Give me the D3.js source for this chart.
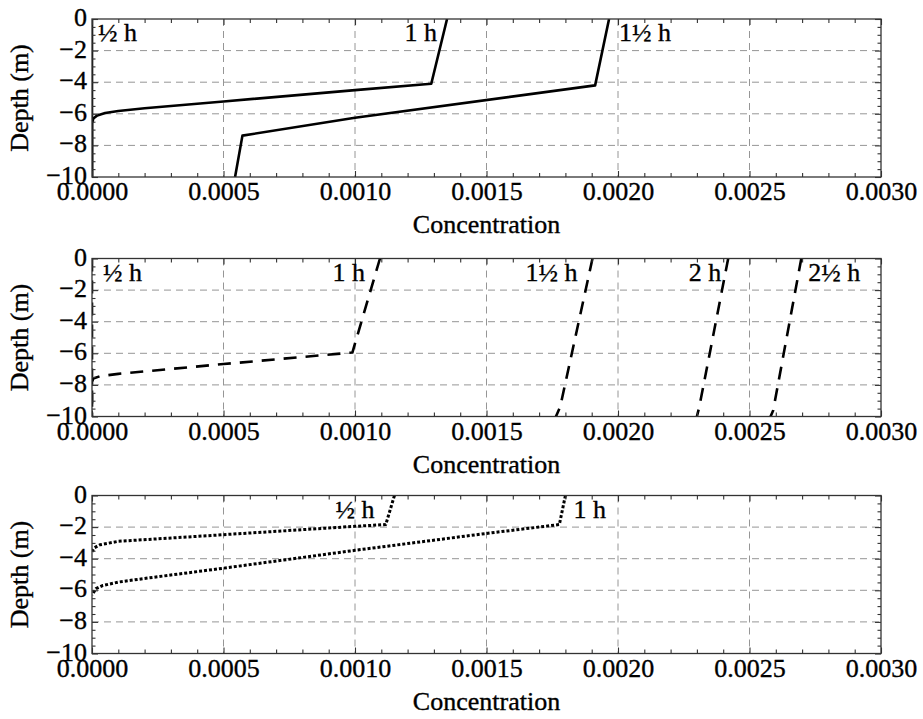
<!DOCTYPE html>
<html>
<head>
<meta charset="utf-8">
<script src="https://cdn.jsdelivr.net/npm/d3@7"></script>
<style>
  body { margin: 0; background: #fff; }
  svg { display: block; }
  text { font-family: "Liberation Serif", "Times New Roman", serif; fill: #000;
         stroke: #000; stroke-width: 0.35px; }
</style>
</head>
<body>
<svg id="chart" width="923" height="719"></svg>
<script>
// ---- axis ticks and titles ----
const xTickValues = [0, 0.0005, 0.0010, 0.0015, 0.0020, 0.0025, 0.0030];
const xTickLabels = ["0.0000", "0.0005", "0.0010", "0.0015", "0.0020", "0.0025", "0.0030"];
const yTickValues = [0, -2, -4, -6, -8, -10];
const yTickLabels = ["0", "\u22122", "\u22124", "\u22126", "\u22128", "\u221210"];
const xTitle = "Concentration";
const yTitle = "Depth (m)";

// ---- profiles: [concentration, depth] ----
// first panel (solid)
const solidNames = ["\u00bd h", "1 h", "1\u00bd h"];
const solidHalfHour = [[0, 0], [0, -10]];
const solidOneHour = [[0.00135, 0], [0.00129, -4.1], [0.0010, -4.5], [0.0005, -5.22],
  [0.0002, -5.65], [0.0001, -5.82], [0.00005, -5.95], [0.00002, -6.1], [0.000005, -6.3],
  [0, -6.6], [0, -10]];
const solidOneHalfHour = [[0.001966, 0], [0.001913, -4.2], [0.001, -6.25], [0.000572, -7.38],
  [0.000544, -10]];

// second panel (dashed)
const dashedNames = ["\u00bd h", "1 h", "1\u00bd h", "2 h", "2\u00bd h"];
const dashedHalfHour = [[0, 0], [0, -10]];
const dashedOneHour = [[0.001095, 0], [0.00099, -5.95], [0.0005, -6.68], [0.0001, -7.3],
  [0.00003, -7.45], [0.000005, -7.6], [0, -7.8], [0, -10]];
const dashedOneHalfHour = [[0.001903, 0], [0.00178, -9.4], [0.001764, -10]];
const dashedTwoHours = [[0.002419, 0], [0.002309, -9.4], [0.002300, -10]];
const dashedTwoHalfHours = [[0.002697, 0], [0.00259, -9.62], [0.00258, -10]];

// third panel (dotted); below the front the concentration stays at zero
const dottedNames = ["\u00bd h", "1 h"];
const dottedHalfHour = [[0.00115, 0], [0.001117, -1.84], [0.0010, -1.95], [0.0005, -2.48],
  [0.0001, -2.9], [0.00003, -3.12], [0.00001, -3.3], [0, -3.55]];
const dottedOneHour = [[0.0018, 0], [0.001777, -1.84], [0.0015, -2.4], [0.0010, -3.47],
  [0.0005, -4.6], [0.0002, -5.25], [0.0001, -5.48], [0.00004, -5.7], [0.000015, -5.9],
  [0, -6.3]];

// ---- layout ----
const left = 92, right = 881, plotH = 158;
const font = 26;

const panels = [
  { top: 19, dash: null, width: 2.6, names: solidNames,
    series: [solidHalfHour, solidOneHour, solidOneHalfHour],
    // label placement: "edge" = at left frame; otherwise px offset from the curve's surface point
    place: [{ edge: true }, { dx: -10 }, { dx: 10 }] },
  { top: 258.5, dash: "13,9", width: 2.6, names: dashedNames,
    series: [dashedHalfHour, dashedOneHour, dashedOneHalfHour, dashedTwoHours, dashedTwoHalfHours],
    place: [{ edge: true, dx: 5 }, { dx: -15 }, { dx: -15 }, { dx: -7 }, { dx: 7 }] },
  { top: 495.5, dash: "3,2", width: 3, names: dottedNames,
    series: [dottedHalfHour, dottedOneHour],
    place: [{ dx: -20 }, { dx: 8 }] }
];

const svg = d3.select("#chart");
const x = d3.scaleLinear().domain([0, 0.003]).range([left, right]);
const xMinor = d3.range(0, 31).map(i => i * 0.0001);
const yMinor = d3.range(0, 21).map(i => -i * 0.5);

panels.forEach((p, pi) => {
  const y = d3.scaleLinear().domain([0, -10]).range([p.top, p.top + plotH]);
  const g = svg.append("g");
  const bottom = p.top + plotH;

  // grid
  g.append("g").selectAll("line").data(xTickValues.slice(1, -1)).join("line")
    .attr("x1", d => x(d)).attr("x2", d => x(d))
    .attr("y1", p.top).attr("y2", bottom)
    .attr("stroke", "#969696").attr("stroke-width", 1).attr("stroke-dasharray", "7,5");
  g.append("g").selectAll("line").data(yTickValues.slice(1, -1)).join("line")
    .attr("x1", left).attr("x2", right)
    .attr("y1", d => y(d)).attr("y2", d => y(d))
    .attr("stroke", "#969696").attr("stroke-width", 1).attr("stroke-dasharray", "7,5");

  // curves
  const clipId = "clip" + pi;
  g.append("clipPath").attr("id", clipId).append("rect")
    .attr("x", left).attr("y", p.top).attr("width", right - left).attr("height", plotH);
  const line = d3.line().x(d => x(d[0])).y(d => y(d[1]));
  g.append("g").attr("clip-path", `url(#${clipId})`)
    .selectAll("path").data(p.series).join("path")
    .attr("d", line)
    .attr("fill", "none").attr("stroke", "#000").attr("stroke-width", p.width)
    .attr("stroke-linejoin", "round")
    .attr("stroke-dasharray", p.dash);

  // inward ticks on all four sides
  const tickStyle = sel => {
    sel.select(".domain").remove();
    sel.selectAll(".tick line").attr("stroke", "#333").attr("stroke-width", 1.1);
  };
  const isMajorX = d => Math.abs(d / 0.0005 - Math.round(d / 0.0005)) < 1e-6;
  const isMajorY = d => Math.abs(d / 2 - Math.round(d / 2)) < 1e-6;
  g.append("g").attr("transform", `translate(0,${bottom})`)
    .call(d3.axisTop(x).tickValues(xMinor).tickFormat("").tickSizeOuter(0)).call(tickStyle)
    .selectAll(".tick line").attr("y2", d => isMajorX(d) ? -6 : -4);
  g.append("g").attr("transform", `translate(0,${p.top})`)
    .call(d3.axisBottom(x).tickValues(xMinor).tickFormat("").tickSizeOuter(0)).call(tickStyle)
    .selectAll(".tick line").attr("y2", d => isMajorX(d) ? 6 : 4);
  g.append("g").attr("transform", `translate(${left},0)`)
    .call(d3.axisRight(y).tickValues(yMinor).tickFormat("").tickSizeOuter(0)).call(tickStyle)
    .selectAll(".tick line").attr("x2", d => isMajorY(d) ? 6 : 3.5);
  g.append("g").attr("transform", `translate(${right},0)`)
    .call(d3.axisLeft(y).tickValues(yMinor).tickFormat("").tickSizeOuter(0)).call(tickStyle)
    .selectAll(".tick line").attr("x2", d => isMajorY(d) ? -6 : -3.5);

  // frame
  g.append("rect").attr("x", left).attr("y", p.top)
    .attr("width", right - left).attr("height", plotH)
    .attr("fill", "none").attr("stroke", "#333").attr("stroke-width", 1.3);

  // tick labels
  const xl = g.append("g").attr("transform", `translate(0,${bottom})`)
    .call(d3.axisBottom(x).tickValues(xTickValues)
      .tickFormat((d, i) => xTickLabels[i]).tickSize(0).tickPadding(0));
  xl.select(".domain").remove();
  xl.selectAll("text").attr("y", 23).attr("dy", null)
    .style("font-size", font + "px").attr("fill", "#000");
  const yl = g.append("g").attr("transform", `translate(${left},0)`)
    .call(d3.axisLeft(y).tickValues(yTickValues)
      .tickFormat((d, i) => yTickLabels[i]).tickSize(0).tickPadding(5));
  yl.select(".domain").remove();
  yl.selectAll("text").attr("dy", "0.25em")
    .style("font-size", font + "px").attr("fill", "#000");

  // axis titles
  g.append("text").attr("x", (left + right) / 2).attr("y", bottom + 56)
    .attr("text-anchor", "middle").style("font-size", font + "px").text(xTitle);
  g.append("text").attr("transform", `translate(28,${p.top + plotH / 2}) rotate(-90)`)
    .attr("text-anchor", "middle").style("font-size", font + "px").text(yTitle);

  // curve labels
  p.names.forEach((name, i) => {
    const pl = p.place[i];
    const surface = p.series[i][0];
    let tx, anchor;
    if (pl.edge) { tx = left + 6 + (pl.dx || 0); anchor = "start"; }
    else { tx = x(surface[0]) + pl.dx; anchor = pl.dx < 0 ? "end" : "start"; }
    g.append("text").attr("x", tx).attr("y", p.top + 22)
      .attr("text-anchor", anchor).style("font-size", font + "px").text(name);
  });
});
</script>
</body>
</html>
